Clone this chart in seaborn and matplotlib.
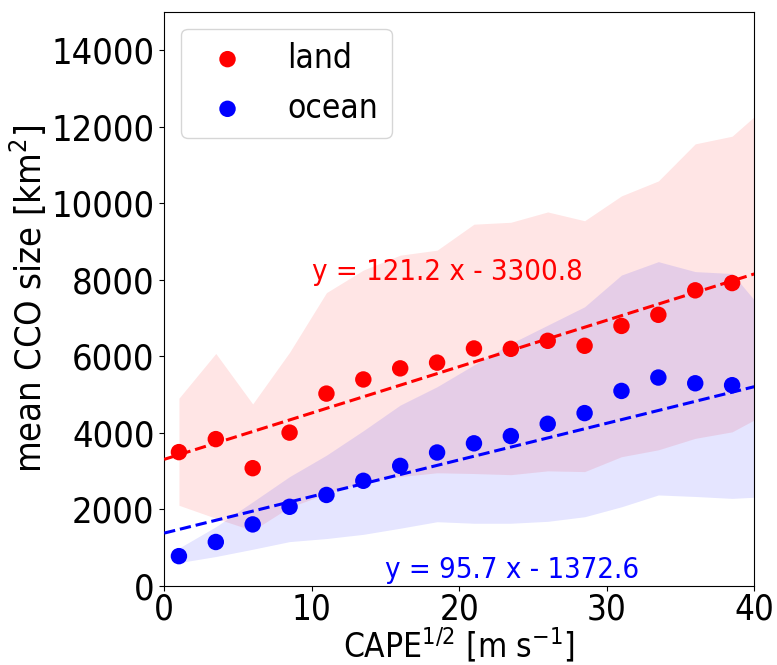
import numpy as np
import pandas as pd
import matplotlib
matplotlib.use("Agg")
import matplotlib.pyplot as plt
import seaborn as sns

# bin centres of sqrt(CAPE) [m/s]
cape = [1.0, 3.5, 6.0, 8.5, 11.0, 13.5, 16.0, 18.5, 21.0, 23.5, 26.0, 28.5, 31.0, 33.5, 36.0, 38.5]
land_mean = [3490, 3830, 3070, 4000, 5020, 5390, 5680, 5830, 6200, 6190, 6400, 6270, 6790, 7080, 7720, 7910]
ocean_mean = [770, 1140, 1600, 2060, 2370, 2740, 3130, 3480, 3720, 3910, 4230, 4510, 5090, 5440, 5290, 5240]

# spread bands (read up to the right edge of the axes)
band_x = cape + [40.0]
land_upper = [4900, 6070, 4750, 6100, 7660, 8250, 8640, 8770, 9450, 9500, 9770, 9540, 10190, 10580, 11550, 11750, 12260]
land_lower = [2100, 1760, 1440, 2050, 2400, 2700, 2850, 2950, 2930, 2900, 3000, 2980, 3370, 3550, 3850, 4020, 4330]
ocean_upper = [980, 1540, 2190, 2850, 3410, 4050, 4720, 5200, 5770, 6330, 6810, 7290, 8120, 8470, 8210, 8160, 7470]
ocean_lower = [600, 760, 950, 1150, 1230, 1340, 1500, 1670, 1630, 1630, 1680, 1800, 2060, 2370, 2330, 2280, 2310]

# linear fits: slope, intercept
land_fit = [121.2, 3300.8]
ocean_fit = [95.7, 1372.6]
land_label = "y = 121.2 x - 3300.8"
ocean_label = "y = 95.7 x - 1372.6"

# narrow glyphs like the original
plt.rcParams["font.stretch"] = "condensed"
plt.rcParams["mathtext.fontset"] = "custom"
plt.rcParams["mathtext.rm"] = "DejaVu Sans:stretch=condensed"

df = pd.DataFrame({"cape": cape, "land": land_mean, "ocean": ocean_mean})
fit_x = np.array([0.0, 40.0])

fig = plt.figure(figsize=(7.77, 6.65), dpi=100)
ax = fig.add_axes([0.2113, 0.1194, 0.7594, 0.8627])

# shaded spread
ax.fill_between(band_x, land_lower, land_upper, color="red", alpha=0.1, linewidth=0)
ax.fill_between(band_x, ocean_lower, ocean_upper, color="blue", alpha=0.1, linewidth=0)

# mean values
sns.scatterplot(data=df, x="cape", y="land", color="red", s=140, edgecolor="none", label="land", ax=ax, zorder=3)
sns.scatterplot(data=df, x="cape", y="ocean", color="blue", s=140, edgecolor="none", label="ocean", ax=ax, zorder=3)

# fitted lines
ax.plot(fit_x, land_fit[0] * fit_x + land_fit[1], "--", color="red", lw=2.2, zorder=4)
ax.plot(fit_x, ocean_fit[0] * fit_x + ocean_fit[1], "--", color="blue", lw=2.2, zorder=4)

ax.text(10, 8000, land_label, color="red", fontsize=21)
ax.text(15, 200, ocean_label, color="blue", fontsize=21)

ax.set_xlim(0, 40)
ax.set_ylim(0, 15000)
ax.set_xticks([0, 10, 20, 30, 40])
ax.set_yticks(np.arange(0, 15000, 2000))
ax.tick_params(labelsize=26)
ax.tick_params(axis="x", labelsize=25, pad=1.5)
ax.set_xlabel(r"CAPE$^{1/2}$ [m s$^{-1}$]", fontsize=24, labelpad=-1)
ax.set_ylabel(r"mean CCO size [km$^2$]", fontsize=26, labelpad=2)
ax.legend(loc="upper left", fontsize=24)

plt.savefig("out.png", dpi=100)
plt.close()
